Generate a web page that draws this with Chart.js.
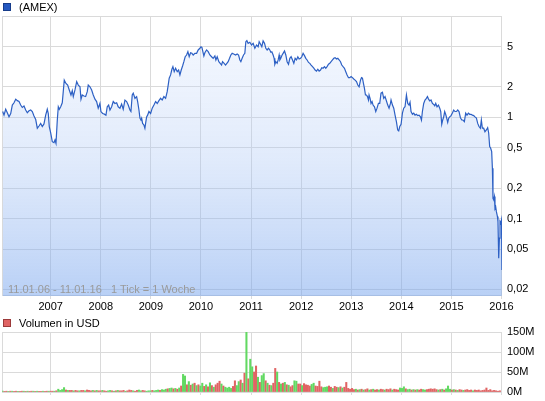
<!DOCTYPE html>
<html><head><meta charset="utf-8">
<script src="https://cdn.jsdelivr.net/npm/chart.js@4"></script>
<style>
body{margin:0;background:#fff;width:545px;height:401px;overflow:hidden;position:relative;font-family:"Liberation Sans",Arial,sans-serif;}
#c1{position:absolute;left:0;top:0;}
#c2{position:absolute;left:0;top:310px;}
.leg{position:absolute;left:3px;font-size:11px;color:#000;line-height:13px;white-space:nowrap;}
.leg i{display:inline-block;width:6px;height:6px;border:1px solid;margin-right:8px;vertical-align:0px;}
.note{position:absolute;left:8px;top:283px;font-size:11px;color:#9a9a9a;white-space:pre;line-height:13px;}
</style></head>
<body>
<canvas id="c1" width="545" height="315"></canvas>
<canvas id="c2" width="545" height="91"></canvas>
<div class="leg" style="top:1px"><i style="background:#2458c0;border-color:#173c8a"></i>(AMEX)</div>
<div class="leg" style="top:317px"><i style="background:#e06464;border-color:#9c3a3a"></i>Volumen in USD</div>
<div class="note">11.01.06 - 11.01.16   1 Tick = 1 Woche</div>
<script>
// ---- data ----
const yearTicks = [2007, 2008, 2009, 2010, 2011, 2012, 2013, 2014, 2015, 2016];
const priceTicks = [0.02, 0.05, 0.1, 0.2, 0.5, 1, 2, 5];
const volTicks = [0, 50, 100, 150];

const priceDates = [
2006.042,2006.068,2006.102,2006.134,2006.168,2006.202,2006.234,2006.268,2006.302,2006.334,
2006.368,2006.401,2006.433,2006.467,2006.501,2006.533,2006.567,2006.601,2006.633,2006.667,
2006.701,2006.733,2006.767,2006.800,2006.832,2006.866,2006.900,2006.932,2006.952,2006.972,
2007.000,2007.032,2007.066,2007.086,2007.106,2007.132,2007.152,2007.172,2007.200,2007.231,
2007.251,2007.271,2007.305,2007.339,2007.371,2007.405,2007.431,2007.451,2007.485,2007.519,
2007.551,2007.585,2007.605,2007.630,2007.664,2007.698,2007.730,2007.750,2007.784,2007.818,
2007.850,2007.884,2007.917,2007.949,2007.983,2008.003,2008.037,2008.063,2008.103,2008.129,
2008.157,2008.183,2008.217,2008.249,2008.283,2008.317,2008.348,2008.383,2008.416,2008.448,
2008.482,2008.516,2008.548,2008.582,2008.602,2008.628,2008.648,2008.682,2008.716,2008.736,
2008.762,2008.782,2008.802,2008.816,2008.835,2008.861,2008.881,2008.895,2008.915,2008.935,
2008.961,2008.995,2009.027,2009.061,2009.095,2009.127,2009.161,2009.195,2009.226,2009.260,
2009.294,2009.326,2009.346,2009.366,2009.394,2009.420,2009.440,2009.466,2009.494,2009.526,
2009.554,2009.580,2009.606,2009.633,2009.659,2009.685,2009.713,2009.739,2009.765,2009.793,
2009.819,2009.845,2009.879,2009.913,2009.945,2009.979,2009.999,2010.019,2010.038,2010.058,
2010.078,2010.112,2010.144,2010.178,2010.212,2010.244,2010.278,2010.298,2010.324,2010.357,
2010.384,2010.412,2010.431,2010.463,2010.491,2010.517,2010.543,2010.571,2010.597,2010.623,
2010.663,2010.691,2010.723,2010.751,2010.777,2010.797,2010.822,2010.850,2010.876,2010.896,
2010.916,2010.942,2010.976,2011.010,2011.042,2011.076,2011.110,2011.142,2011.162,2011.190,
2011.215,2011.241,2011.269,2011.295,2011.321,2011.349,2011.375,2011.395,2011.415,2011.441,
2011.461,2011.475,2011.495,2011.521,2011.541,2011.561,2011.575,2011.594,2011.620,2011.640,
2011.668,2011.694,2011.720,2011.748,2011.774,2011.800,2011.828,2011.854,2011.880,2011.908,
2011.934,2011.960,2011.988,2012.013,2012.039,2012.067,2012.093,2012.119,2012.147,2012.173,
2012.199,2012.227,2012.253,2012.279,2012.307,2012.333,2012.359,2012.387,2012.412,2012.438,
2012.466,2012.492,2012.518,2012.546,2012.572,2012.598,2012.626,2012.652,2012.678,2012.706,
2012.732,2012.758,2012.786,2012.811,2012.837,2012.865,2012.891,2012.917,2012.945,2012.971,
2012.997,2013.025,2013.051,2013.077,2013.105,2013.131,2013.157,2013.185,2013.205,2013.224,
2013.244,2013.264,2013.284,2013.304,2013.324,2013.344,2013.356,2013.376,2013.396,2013.416,
2013.436,2013.464,2013.490,2013.515,2013.543,2013.569,2013.595,2013.623,2013.649,2013.675,
2013.703,2013.729,2013.755,2013.783,2013.795,2013.823,2013.849,2013.875,2013.902,2013.928,
2013.948,2013.969,2013.995,2014.022,2014.048,2014.074,2014.102,2014.128,2014.154,2014.174,
2014.194,2014.222,2014.248,2014.274,2014.302,2014.328,2014.354,2014.382,2014.402,2014.421,
2014.447,2014.473,2014.501,2014.521,2014.541,2014.567,2014.593,2014.621,2014.647,2014.667,
2014.687,2014.713,2014.741,2014.767,2014.787,2014.807,2014.826,2014.846,2014.866,2014.886,
2014.906,2014.926,2014.946,2014.966,2014.992,2015.020,2015.046,2015.072,2015.100,2015.126,
2015.152,2015.180,2015.206,2015.231,2015.259,2015.285,2015.311,2015.339,2015.365,2015.391,
2015.419,2015.445,2015.471,2015.499,2015.525,2015.551,2015.578,2015.598,2015.618,2015.644,
2015.670,2015.698,2015.724,2015.744,2015.764,2015.784,2015.804,2015.818,2015.830,2015.844,
2015.858,2015.870,2015.884,2015.898,2015.918,2015.930,2015.944,2015.958,2015.970,2015.984,
2016.000,2016.009
];
const priceValues = [
1.14,1.05,1.20,1.11,1.01,1.09,1.32,1.39,1.51,1.46,
1.43,1.32,1.25,1.29,1.18,1.11,1.16,1.18,1.14,1.03,
0.95,0.78,0.82,0.87,0.81,0.86,1.05,1.20,1.09,0.81,
0.70,0.574,0.562,0.597,0.554,0.94,1.27,1.20,1.27,1.39,
1.79,2.33,2.16,2.08,1.86,1.66,1.83,1.60,1.86,2.25,
2.08,2.00,1.51,1.66,1.62,1.60,1.79,2.08,2.00,1.86,
1.66,1.51,1.43,1.23,1.37,1.14,1.09,1.08,1.05,1.27,
1.32,1.18,1.27,1.43,1.37,1.39,1.27,1.23,1.35,1.20,
1.48,1.43,1.32,1.18,1.14,1.66,1.73,1.54,1.60,1.43,
1.18,0.98,0.94,0.98,0.87,0.84,0.78,0.87,1.01,1.05,
1.14,1.09,1.23,1.32,1.43,1.37,1.46,1.54,1.48,1.60,
1.54,1.79,2.08,2.43,2.62,2.98,3.16,2.82,3.05,2.82,
2.93,2.62,2.93,3.21,3.54,3.96,4.12,4.44,3.96,4.34,
4.28,4.12,4.28,4.28,4.62,4.80,4.97,4.90,4.44,4.03,
4.34,4.62,4.44,4.12,3.96,3.82,4.03,3.68,3.96,3.54,
3.41,3.28,3.54,3.41,3.28,3.41,3.54,3.82,4.12,4.28,
4.19,4.12,4.22,4.12,3.68,3.54,3.82,4.12,4.28,5.58,
5.71,5.37,5.50,5.17,5.37,4.80,5.17,4.97,5.58,5.26,
4.97,5.67,5.37,4.80,4.62,4.80,4.62,4.39,4.44,4.12,
3.82,3.34,3.54,3.41,3.68,4.12,3.68,3.82,4.12,4.28,
4.51,4.12,3.54,3.34,3.82,3.96,3.68,3.41,3.82,3.68,
3.96,3.76,3.82,3.96,4.28,4.06,3.82,3.68,3.48,3.41,
3.28,3.16,3.05,2.93,2.86,2.98,2.86,2.93,3.09,3.05,
3.16,3.05,3.16,3.34,3.41,3.54,3.68,3.82,3.88,3.76,
3.82,3.68,3.54,3.28,3.16,3.05,2.82,2.62,2.46,2.46,
2.52,2.46,2.39,2.33,2.25,2.08,2.00,2.33,2.46,2.43,
2.16,1.93,1.66,1.66,1.60,1.48,1.66,1.54,1.37,1.43,
1.32,1.27,1.14,1.23,1.37,1.37,1.73,1.77,1.54,1.60,
1.45,1.32,1.23,1.37,1.48,1.32,1.23,1.05,0.905,0.749,
0.733,0.81,0.853,1.10,1.23,1.27,1.66,1.37,1.32,1.41,
1.14,1.07,1.10,1.05,1.07,1.04,1.05,1.01,0.94,1.14,
1.37,1.48,1.54,1.60,1.52,1.45,1.48,1.37,1.34,1.30,
1.37,1.27,1.32,1.23,1.14,0.853,0.94,1.01,1.14,1.07,
0.98,0.89,0.98,1.01,1.04,1.10,1.18,1.14,1.14,1.18,
1.14,0.99,0.94,0.94,0.905,1.10,1.05,1.10,1.07,1.07,
1.05,1.04,1.01,0.98,0.87,0.81,0.78,0.94,0.78,0.78,
0.72,0.749,0.79,0.70,0.513,0.494,0.458,0.314,0.158,0.153,
0.165,0.126,0.131,0.117,0.105,0.0933,0.0405,0.0641,0.0933,0.090,
0.0975,0.031
];

// weekly volume, one bar per two weeks, in million USD; 1 = week closed up (green), 0 = down (red)
const volStart = 2006.04;
const volStep = 14 / 365.25;
const volValues = [
2,1,2,1,2,2,1,2,1,1,2,2,1,2,1,2,2,1,2,1,1,2,1,2,2,
2,2,2,3,7,4,6,11,5,4,4,4,3,4,3,3,4,4,3,5,4,3,4,3,4,3,
3,4,3,2,3,4,3,2,3,4,3,3,4,2,3,5,4,3,2,4,5,3,4,3,2,3,
3,4,3,4,5,4,6,5,7,8,9,10,8,9,7,10,15,44,40,18,26,17,20,22,16,18,
15,22,14,18,13,23,16,12,18,22,27,20,15,12,10,12,9,14,28,16,26,30,22,47,165,33,
82,63,50,65,37,24,41,46,28,22,17,16,22,59,50,24,20,22,24,18,17,13,16,28,27,20,
20,16,21,18,17,15,19,22,15,14,27,13,11,12,13,15,12,9,14,12,11,13,10,12,24,9,
7,9,6,7,5,6,7,5,6,8,5,6,7,5,6,5,7,6,5,7,6,8,5,7,6,5,
10,9,13,8,6,7,5,6,5,6,5,7,6,5,6,7,8,7,8,6,5,6,7,5,8,15,
7,5,6,5,4,6,5,4,5,6,4,5,3,5,4,5,3,4,5,10,4,6,3,4,3,2,
3
];
const volUp = [
1,0,0,1,0,1,0,0,1,0,0,1,0,1,0,0,1,0,1,0,0,1,0,0,1,
0,0,1,0,1,1,1,1,0,1,0,0,1,0,0,1,0,0,1,0,0,0,1,0,1,0,
0,1,0,0,1,1,0,1,0,1,0,0,0,1,0,0,0,1,0,0,1,1,0,0,1,1,
1,0,1,1,1,0,1,1,1,0,1,1,0,1,0,1,0,1,1,0,1,0,1,0,1,0,
1,1,0,1,0,1,0,1,0,0,0,1,0,1,1,1,1,0,0,1,1,0,1,0,1,0,
1,1,0,0,1,0,1,1,0,1,0,1,0,0,1,0,1,0,1,0,1,0,0,1,1,0,
0,1,0,0,0,0,1,1,0,0,0,0,1,1,1,0,0,1,0,0,1,0,1,0,0,0,
0,0,0,1,0,1,0,1,0,0,1,0,1,0,0,1,0,0,1,0,0,0,1,0,0,0,
1,1,1,0,1,1,0,1,0,1,0,0,1,1,0,0,0,0,0,0,1,0,1,0,1,1,
1,0,1,0,1,0,0,1,0,0,0,0,1,0,0,0,0,0,0,0,0,0,0,0,0,0,
0
];

// ---- drawing ----
const FONT = '"Liberation Sans", Arial, sans-serif';
Chart.defaults.font.family = FONT;
Chart.defaults.font.size = 11;
Chart.defaults.color = '#000';
const GRID = '#dadada';
const X_MIN = 2006.028, X_MAX = 2016.01;

const boxPlugin = {
  id: 'box',
  beforeDatasetsDraw(chart) {
    const a = chart.chartArea, c = chart.ctx;
    c.save();
    c.strokeStyle = GRID; c.lineWidth = 1;
    c.strokeRect(Math.round(a.left) + 0.5, Math.round(a.top) + 0.5,
                 Math.round(a.right - a.left) - 1, Math.round(a.bottom - a.top) - 1);
    c.restore();
  }
};

new Chart(document.getElementById('c1'), {
  type: 'line',
  data: {
    datasets: [{
      data: priceDates.map((d, i) => ({ x: d, y: priceValues[i] })),
      borderColor: '#2d60c4',
      borderWidth: 1.2,
      pointRadius: 0,
      tension: 0,
      fill: 'start',
      backgroundColor: (ctx) => {
        const a = ctx.chart.chartArea;
        if (!a) return 'rgba(0,0,0,0)';
        const g = ctx.chart.ctx.createLinearGradient(0, a.top, 0, a.bottom);
        g.addColorStop(0, 'rgba(215,228,252,0.25)');
        g.addColorStop(0.5, 'rgba(170,198,245,0.35)');
        g.addColorStop(1, 'rgba(120,165,237,0.52)');
        return g;
      }
    }]
  },
  options: {
    responsive: false, animation: false, events: [],
    layout: { padding: { left: 2, top: 16, right: 0, bottom: 0 } },
    plugins: { legend: { display: false }, tooltip: { enabled: false } },
    scales: {
      x: {
        type: 'linear', min: X_MIN, max: X_MAX,
        afterBuildTicks: (s) => { s.ticks = yearTicks.map(v => ({ value: v })); },
        afterFit: (s) => { s.height = 19; },
        grid: { color: GRID, tickLength: 3 },
        border: { display: false },
        ticks: { callback: (v) => String(v), padding: 1, maxRotation: 0, autoSkip: false }
      },
      y: {
        type: 'logarithmic', position: 'right', min: 0.0172, max: 10,
        afterBuildTicks: (s) => { s.ticks = priceTicks.map(v => ({ value: v })); },
        afterFit: (s) => { s.width = 43; },
        grid: { color: GRID, drawTicks: true, tickLength: 5, tickColor: 'rgba(0,0,0,0)' },
        border: { display: false },
        ticks: { callback: (v) => String(v).replace('.', ','), padding: 0 }
      }
    }
  },
  plugins: [boxPlugin]
});

new Chart(document.getElementById('c2'), {
  type: 'bar',
  data: {
    datasets: [{
      data: volValues.map((v, i) => ({ x: volStart + i * volStep, y: v })),
      backgroundColor: volUp.map(u => u ? '#62d962' : '#e06464'),
      barThickness: 1.4,
      grouped: false
    }]
  },
  options: {
    responsive: false, animation: false, events: [],
    layout: { padding: { left: 2, top: 22, right: 0, bottom: 0 } },
    plugins: { legend: { display: false }, tooltip: { enabled: false } },
    scales: {
      x: {
        type: 'linear', min: X_MIN, max: X_MAX, offset: false,
        afterBuildTicks: (s) => { s.ticks = yearTicks.map(v => ({ value: v })); },
        afterFit: (s) => { s.height = 9; },
        grid: { color: GRID, tickLength: 3, offset: false },
        border: { display: false },
        ticks: { display: false }
      },
      y: {
        position: 'right', min: 0, max: 150,
        afterBuildTicks: (s) => { s.ticks = volTicks.map(v => ({ value: v })); },
        afterFit: (s) => { s.width = 43; },
        grid: { color: GRID, drawTicks: true, tickLength: 5, tickColor: 'rgba(0,0,0,0)' },
        border: { display: false },
        ticks: { callback: (v) => v + 'M', padding: 0 }
      }
    }
  },
  plugins: [boxPlugin]
});
</script>
</body></html>
